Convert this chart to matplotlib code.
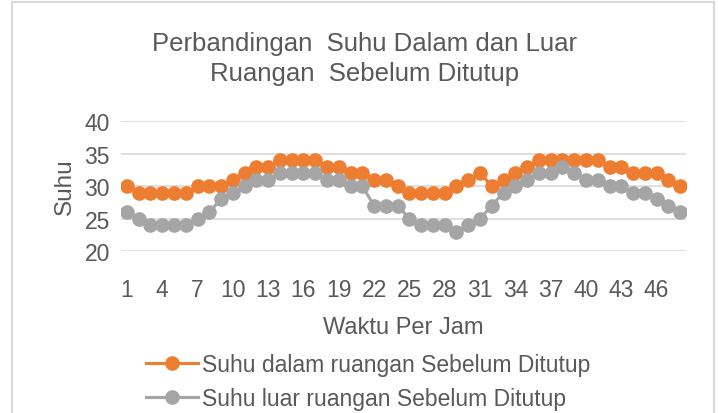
import matplotlib.pyplot as plt
from matplotlib.lines import Line2D

plt.rcParams['font.family'] = ['Liberation Sans', 'DejaVu Sans']

# data
jam = list(range(1, 49))
suhu_dalam = [30, 29, 29, 29, 29, 29, 30, 30, 30, 31,
              32, 33, 33, 34, 34, 34, 34, 33, 33, 32,
              32, 31, 31, 30, 29, 29, 29, 29, 30, 31,
              32, 30, 31, 32, 33, 34, 34, 34, 34, 34,
              34, 33, 33, 32, 32, 32, 31, 30]
suhu_luar = [26, 25, 24, 24, 24, 24, 25, 26, 28, 29,
             30, 31, 31, 32, 32, 32, 32, 31, 31, 30,
             30, 27, 27, 27, 25, 24, 24, 24, 23, 24,
             25, 27, 29, 30, 31, 32, 32, 33, 32, 31,
             31, 30, 30, 29, 29, 28, 27, 26]
label_dalam = 'Suhu dalam ruangan Sebelum Ditutup'
label_luar = 'Suhu luar ruangan Sebelum Ditutup'
xticks = list(range(1, 49, 3))
yticks = [20, 25, 30, 35, 40]

txt = '#595959'
fig = plt.figure(figsize=(7.18, 4.14), dpi=100)
ax = fig.add_axes([0.1685, 0.391, 0.787, 0.314])

ax.plot(jam, suhu_dalam, color='#ED7D31', lw=2.25, marker='o', ms=9.5, label=label_dalam)
ax.plot(jam, suhu_luar, color='#A5A5A5', lw=2.25, marker='o', ms=9.5, label=label_luar)

ax.set_xlim(0.5, 48.5)
ax.set_ylim(20, 40)
ax.set_xticks(xticks)
ax.set_yticks(yticks)
ax.tick_params(length=0, labelsize=16.5, labelcolor=txt, pad=8)
ax.tick_params(axis='x', pad=19)
for s in ax.spines.values():
    s.set_visible(False)
ax.grid(axis='y', color='#D9D9D9', lw=1.2)
ax.set_axisbelow(True)

ax.set_ylabel('Suhu', fontsize=17.5, color=txt, labelpad=6)
ax.set_xlabel('Waktu Per Jam', fontsize=17, color=txt, labelpad=11)
fig.text(0.508, 0.922, 'Perbandingan  Suhu Dalam dan Luar\nRuangan  Sebelum Ditutup',
         ha='center', va='top', fontsize=18.5, color=txt, linespacing=1.3)

fig.legend(loc='upper left', bbox_to_anchor=(0.19, 0.168), frameon=False,
           fontsize=16.5, labelcolor=txt, handlelength=2.3, handletextpad=0.15,
           labelspacing=0.5, borderaxespad=0)

# chart border
for xs, ys in [([12, 12], [-10, 411]), ([12, 714], [411, 411]), ([714, 714], [411, -10])]:
    fig.add_artist(Line2D([x / 718 for x in xs], [y / 414 for y in ys],
                          color='#D9D9D9', lw=1.5, transform=fig.transFigure))

fig.savefig('out.png', dpi=100)
